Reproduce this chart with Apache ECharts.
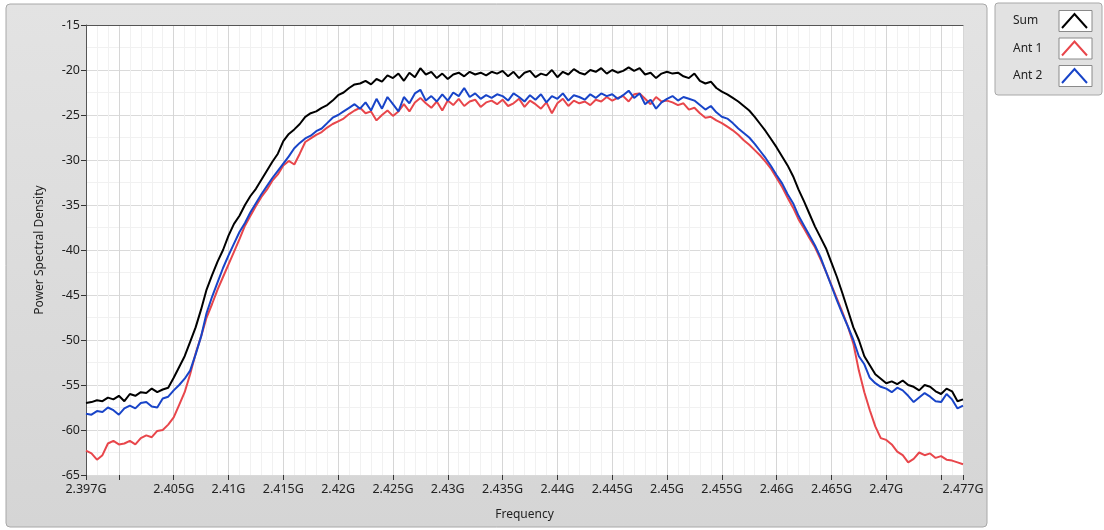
<!DOCTYPE html>
<html>
<head>
<meta charset="utf-8">
<script src="https://cdn.jsdelivr.net/npm/echarts@6/dist/echarts.min.js"></script>
<style>
  html, body { margin: 0; padding: 0; background: #fff; }
  #main { width: 1104px; height: 530px; }
</style>
</head>
<body>
<div id="main"></div>
<script>
// frequency grid in MHz, 0.5 MHz steps from 2397 to 2477
var freqStart = 2397, freqStep = 0.5;

var sum = [
  -57.0,-56.9,-56.7,-56.8,-56.4,-56.6,-56.2,-56.8,-56.0,-56.2,
  -55.8,-55.9,-55.4,-55.8,-55.5,-55.3,-54.2,-53.0,-51.8,-50.2,
  -48.6,-46.6,-44.4,-42.8,-41.3,-40.0,-38.4,-37.1,-36.2,-35.0,
  -34.0,-33.2,-32.2,-31.2,-30.2,-29.3,-27.9,-27.1,-26.6,-26.0,
  -25.2,-24.8,-24.6,-24.2,-23.9,-23.4,-22.8,-22.5,-22.0,-21.6,
  -21.5,-21.2,-21.6,-21.0,-21.3,-20.6,-20.9,-20.4,-21.2,-20.3,
  -20.8,-19.8,-20.5,-20.2,-20.9,-20.4,-21.0,-20.5,-20.3,-20.7,
  -20.2,-20.5,-20.3,-20.6,-20.2,-20.4,-20.1,-20.7,-20.2,-20.9,
  -20.3,-20.1,-20.8,-20.4,-20.6,-20.0,-20.8,-20.2,-20.5,-19.9,
  -20.3,-20.5,-20.0,-20.2,-19.8,-20.4,-20.0,-20.3,-20.1,-19.7,
  -20.1,-19.8,-20.5,-20.3,-20.9,-20.4,-20.2,-20.4,-20.3,-20.7,
  -20.9,-20.4,-21.2,-21.5,-21.3,-22.0,-22.4,-22.7,-23.1,-23.5,
  -24.0,-24.5,-25.2,-26.0,-26.8,-27.7,-28.6,-29.6,-30.6,-31.8,
  -33.3,-34.6,-36.0,-37.4,-38.6,-39.8,-41.4,-43.0,-44.8,-46.7,
  -48.6,-50.0,-51.8,-52.8,-53.8,-54.3,-54.8,-54.6,-54.9,-54.5,
  -55.0,-55.2,-55.6,-55.0,-55.2,-55.7,-56.0,-55.4,-55.7,-56.8,
  -56.6
];

var ant1 = [
  -62.3,-62.6,-63.3,-62.8,-61.5,-61.2,-61.6,-61.5,-61.2,-61.6,
  -60.9,-60.6,-60.8,-60.1,-60.0,-59.4,-58.6,-57.2,-55.8,-53.8,
  -51.5,-49.6,-47.5,-46.0,-44.4,-43.0,-41.6,-40.2,-38.8,-37.3,
  -36.2,-35.1,-34.1,-33.3,-32.3,-31.6,-30.6,-30.1,-30.5,-29.3,
  -28.0,-27.6,-27.2,-26.9,-26.4,-26.0,-25.7,-25.4,-24.9,-24.5,
  -24.2,-24.8,-24.6,-25.6,-25.0,-24.5,-25.1,-24.6,-23.8,-24.6,
  -23.6,-23.1,-23.7,-24.2,-23.5,-24.5,-23.4,-23.9,-23.2,-24.0,
  -23.5,-23.3,-24.1,-23.6,-23.4,-23.8,-23.3,-24.0,-23.7,-23.2,
  -24.1,-23.4,-23.8,-24.3,-23.6,-24.8,-23.7,-23.2,-24.0,-23.4,
  -23.7,-23.5,-23.9,-23.3,-23.5,-23.0,-23.4,-23.1,-22.9,-23.5,
  -22.7,-22.6,-23.2,-23.8,-23.0,-23.5,-23.4,-23.6,-23.9,-23.7,
  -24.4,-24.2,-24.8,-25.3,-25.2,-25.6,-25.9,-26.3,-26.7,-27.2,
  -27.8,-28.3,-28.9,-29.5,-30.2,-31.0,-32.0,-33.0,-34.2,-35.3,
  -36.6,-37.6,-38.7,-39.7,-41.0,-42.4,-43.9,-45.4,-46.9,-48.5,
  -50.4,-53.4,-55.8,-57.8,-59.6,-60.9,-61.1,-61.6,-62.4,-62.8,
  -63.6,-63.2,-62.5,-62.8,-62.6,-63.1,-62.9,-63.3,-63.4,-63.6,
  -63.8
];

var ant2 = [
  -58.2,-58.3,-57.9,-58.0,-57.5,-57.8,-58.3,-57.6,-57.3,-57.6,
  -57.0,-56.9,-57.4,-57.5,-56.5,-56.3,-55.6,-55.0,-54.3,-53.4,
  -51.6,-49.6,-47.0,-45.2,-43.6,-42.0,-40.6,-39.3,-38.0,-37.0,
  -35.8,-34.8,-33.8,-32.9,-32.0,-31.2,-30.4,-29.6,-28.7,-28.1,
  -27.6,-27.3,-26.8,-26.5,-25.9,-25.3,-25.0,-24.6,-24.2,-23.8,
  -24.3,-23.6,-24.5,-23.2,-24.3,-23.0,-23.8,-24.6,-23.0,-23.7,
  -22.6,-22.2,-23.4,-22.9,-23.5,-22.7,-23.4,-22.5,-22.9,-22.0,
  -23.0,-22.6,-23.2,-22.8,-23.1,-22.7,-22.9,-23.4,-22.6,-23.0,
  -23.5,-22.8,-23.3,-22.7,-23.6,-22.9,-23.2,-22.6,-23.4,-22.8,
  -23.0,-23.3,-22.7,-23.1,-22.6,-22.9,-22.7,-23.2,-22.8,-22.3,
  -23.1,-22.6,-23.8,-23.3,-24.3,-23.6,-23.2,-22.9,-23.4,-23.0,
  -23.2,-23.4,-23.9,-24.4,-24.0,-24.7,-25.2,-25.4,-25.9,-26.5,
  -27.0,-27.5,-28.2,-29.0,-29.8,-30.7,-31.7,-32.6,-33.8,-34.8,
  -36.2,-37.3,-38.4,-39.5,-40.8,-42.4,-44.0,-45.6,-47.1,-48.5,
  -50.0,-51.8,-52.7,-54.2,-54.8,-55.2,-55.4,-55.8,-55.3,-55.6,
  -56.2,-56.9,-56.4,-55.9,-56.3,-56.8,-56.9,-56.0,-56.6,-57.6,
  -57.3
];

var xTickValues = [2397, 2400, 2405, 2410, 2415, 2420, 2425, 2430, 2435, 2440,
                   2445, 2450, 2455, 2460, 2465, 2470, 2475, 2477];
var xLabelValues = [2397, 2405, 2410, 2415, 2420, 2425, 2430, 2435, 2440,
                    2445, 2450, 2455, 2460, 2465, 2470, 2477];

var names = ['Sum', 'Ant 1', 'Ant 2'];
var colors = ['#000000', '#e8464b', '#1844c8'];

function pairs(arr) {
  return arr.map(function (v, i) { return [freqStart + i * freqStep, v]; });
}

var myChart = echarts.init(document.getElementById('main'));
var font = 'Noto Sans';

var option = {
  animation: false,
  textStyle: { fontFamily: font },
  graphic: [
    {
      type: 'rect', z: -10,
      shape: { x: 6, y: 4, width: 981, height: 523, r: 4 },
      style: {
        fill: new echarts.graphic.LinearGradient(0, 0, 0, 1, [
          { offset: 0, color: '#e3e3e3' }, { offset: 1, color: '#d5d5d5' }
        ]),
        stroke: '#a8a8a8', lineWidth: 1
      }
    },
    {
      type: 'rect', z: -10,
      shape: { x: 995, y: 3, width: 107, height: 92, r: 3 },
      style: { fill: '#e2e2e2', stroke: '#a8a8a8', lineWidth: 1 }
    },
    { type: 'rect', z: 1, shape: { x: 1059, y: 10.5, width: 33, height: 21 }, style: { fill: '#fff', stroke: '#8a8a8a' } },
    { type: 'rect', z: 1, shape: { x: 1059, y: 38, width: 33, height: 21 }, style: { fill: '#fff', stroke: '#8a8a8a' } },
    { type: 'rect', z: 1, shape: { x: 1059, y: 65.5, width: 33, height: 21 }, style: { fill: '#fff', stroke: '#8a8a8a' } }
  ],
  color: colors,
  legend: {
    orient: 'vertical',
    right: 16,
    top: 13,
    padding: 0,
    align: 'right',
    itemWidth: 25,
    itemHeight: 14,
    itemGap: 11.5,
    icon: 'path://M0,14 L12.5,0 L25,14',
    formatter: function (n) { return '{a|' + n + '}'; },
    textStyle: {
      fontFamily: font,
      fontSize: 12,
      color: '#222',
      rich: { a: { width: 44, align: 'left', lineHeight: 14, fontSize: 12, fontFamily: font, color: '#222' } }
    },
    data: names.map(function (n, i) {
      return { name: n, itemStyle: { color: 'transparent', borderColor: colors[i], borderWidth: 2 } };
    })
  },
  grid: {
    left: 86, right: 141, top: 25, bottom: 55,
    show: true, backgroundColor: '#ffffff', borderWidth: 0
  },
  xAxis: [{
    type: 'value',
    min: 2397, max: 2477,
    minInterval: 5, maxInterval: 5,
    name: 'Frequency',
    nameLocation: 'middle',
    nameGap: 34,
    nameTextStyle: { fontFamily: font, fontSize: 12, color: '#222' },
    axisLine: { show: false },
    axisTick: { show: true, length: 5, customValues: xTickValues, lineStyle: { color: '#333' } },
    axisLabel: {
      customValues: xLabelValues,
      fontFamily: font, fontSize: 12.5, color: '#222', margin: 8,
      formatter: function (v) { return parseFloat((v / 1000).toFixed(3)) + 'G'; }
    },
    splitLine: { show: true, lineStyle: { color: '#d6d6d6', width: 1 } },
    minorTick: { show: false, splitNumber: 5 },
    minorSplitLine: { show: true, lineStyle: { color: '#f1f1f1', width: 1 } }
  }, {
    type: 'value',
    position: 'top',
    min: 2397, max: 2477,
    axisLine: { show: true, lineStyle: { color: '#555', width: 1 } },
    axisTick: { show: false },
    axisLabel: { show: false },
    splitLine: { show: false }
  }],
  yAxis: {
    type: 'value',
    min: -65, max: -15, interval: 5,
    name: 'Power Spectral Density',
    nameLocation: 'middle',
    nameGap: 40,
    nameTextStyle: { fontFamily: font, fontSize: 12, color: '#222' },
    axisLine: { show: true, lineStyle: { color: '#555', width: 1 } },
    axisTick: { show: true, length: 5, lineStyle: { color: '#333' } },
    axisLabel: { fontFamily: font, fontSize: 12.5, color: '#222', margin: 6 },
    splitLine: { show: true, lineStyle: { color: '#dadada', width: 1 } },
    minorTick: { show: false, splitNumber: 2 },
    minorSplitLine: { show: true, lineStyle: { color: '#f1f1f1', width: 1 } }
  },
  series: [{
    name: 'Sum', type: 'line', data: pairs(sum),
    showSymbol: false, symbol: 'none', z: 4,
    lineStyle: { color: colors[0], width: 2 }
  }, {
    name: 'Ant 1', type: 'line', data: pairs(ant1),
    showSymbol: false, symbol: 'none', z: 2,
    lineStyle: { color: colors[1], width: 2 }
  }, {
    name: 'Ant 2', type: 'line', data: pairs(ant2),
    showSymbol: false, symbol: 'none', z: 3,
    lineStyle: { color: colors[2], width: 2 }
  }]
};

myChart.setOption(option);
</script>
</body>
</html>
